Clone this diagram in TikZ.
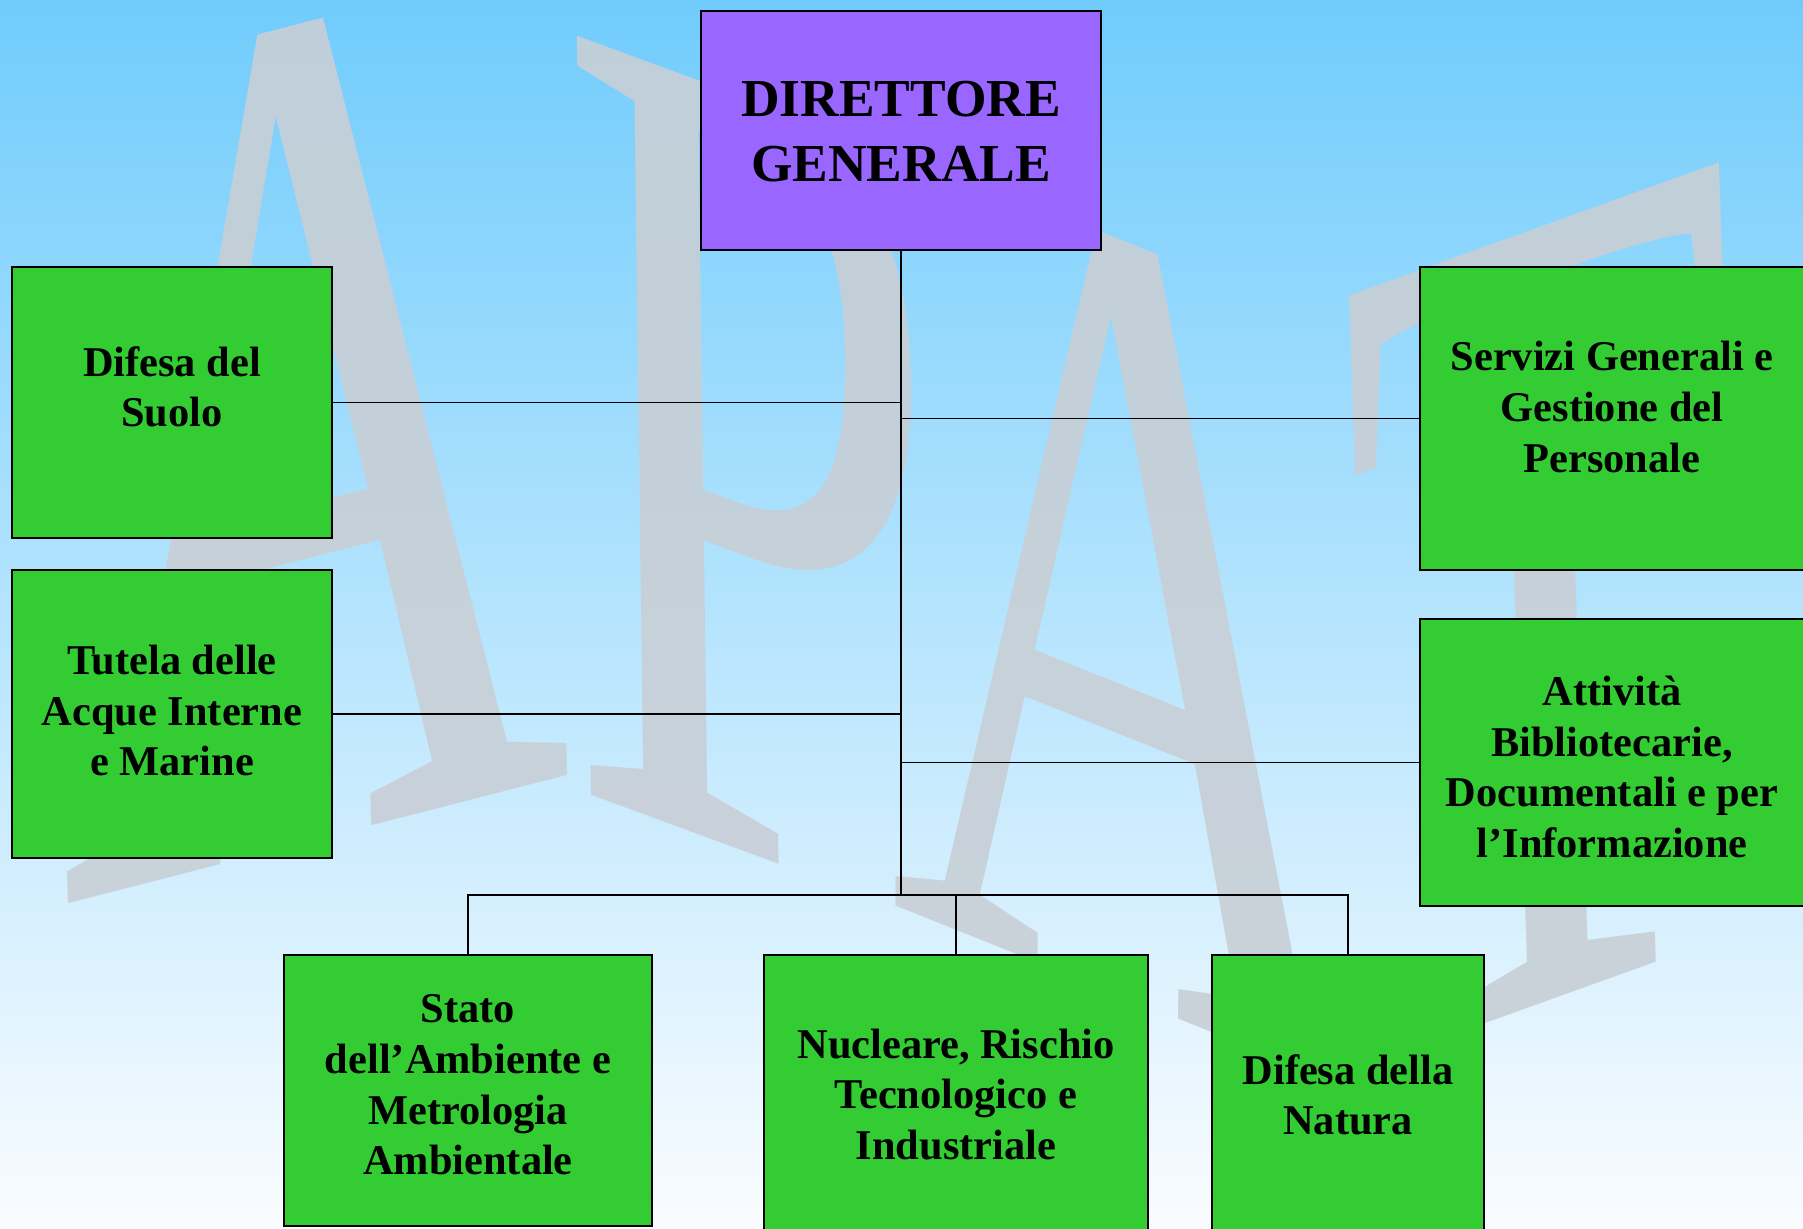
\documentclass[tikz,border=0pt]{standalone}
\usepackage{fontspec}
\setmainfont{Liberation Serif}
\definecolor{bgtop}{RGB}{112,204,252}
\definecolor{bgmid}{RGB}{182,228,253}
\definecolor{bgbot}{RGB}{250,252,255}
\definecolor{wmgray}{RGB}{200,207,214}
\definecolor{boxgreen}{RGB}{51,204,51}
\definecolor{dirpurple}{RGB}{153,102,255}
\tikzset{
  box/.style={draw=black, line width=1pt, fill=boxgreen, inner sep=0pt},
  lbl/.style={align=center, font=\bfseries\fontsize{21.2}{25.3}\selectfont, inner sep=0pt},
  conn/.style={draw=black, line width=0.6pt},
  trunk/.style={draw=black, line width=0.9pt},
  wm/.style={transform shape, anchor=base west, inner sep=0pt, text=wmgray, text opacity=0.9, font=\fontsize{100}{100}\selectfont},
}
\begin{document}
\begin{tikzpicture}[x=0.5pt,y=-0.5pt]
\useasboundingbox (0,0) rectangle (1803,1229);
\clip (0,0) rectangle (1803,1229);
\shade[top color=bgtop, middle color=bgmid, bottom color=bgbot] (0,0) rectangle (1803,1229);

% watermark letters APAT
\begin{scope}[shift={(60,906)}]
  \node[wm, cm={3.54,0.91,-0.16,6.17,(0,0)}] (wmA) at (0,0) {A};
\end{scope}
\begin{scope}[shift={(566,786)}]
  \node[wm, cm={3.4,-1.25,-0.075,5.785,(0,0)}] (wmP) at (0,0) {P};
\end{scope}
\begin{scope}[shift={(888,903)}]
  \node[wm, cm={3.3,-1.32,0.035,5.712,(0,0)}] (wmAA) at (0,0) {A};
\end{scope}
\begin{scope}[shift={(1362,1068)}]
  \node[wm, cm={3.21,1.155,-0.195,5.86,(0,0)}] (wmT) at (0,0) {T};
\end{scope}

% boxes
\node[box, fill=dirpurple, minimum width=200pt, minimum height=119.5pt] (dir) at (901,130.5) {};
\node[box, minimum width=160pt, minimum height=135.5pt] (suolo) at (172,402.5) {};
\node[box, minimum width=160pt, minimum height=144pt] (tutela) at (172,714) {};
\node[box, minimum width=194pt, minimum height=151.5pt] (servizi) at (1614,418.5) {};
\node[box, minimum width=194pt, minimum height=143.5pt] (attivita) at (1614,762.5) {};
\node[box, minimum width=184pt, minimum height=135.5pt] (stato) at (468,1090.5) {};
\node[box, minimum width=192pt, minimum height=143pt] (nucleare) at (956,1098) {};
\node[box, minimum width=136pt, minimum height=143pt] (natura) at (1348,1098) {};

% connectors
\coordinate (bus) at (901,895);
\draw[trunk] (dir.south) -- (bus);
\draw[conn] (suolo.east) -- (suolo.east -| dir.south);
\draw[conn] (tutela.east) -- (tutela.east -| dir.south);
\draw[conn] (servizi.west) -- (servizi.west -| dir.south);
\draw[conn] (attivita.west) -- (attivita.west -| dir.south);
\draw[conn] (stato.north) -- (stato.north |- bus) -- (natura.north |- bus) -- (natura.north);
\draw[conn] (nucleare.north) -- (nucleare.north |- bus);

% labels
\node[align=center, inner sep=0pt, font=\bfseries\fontsize{26.7}{32.2}\selectfont] (tdir) at (901,131.7) {DIRETTORE\\GENERALE};
\node[lbl] (tsuolo) at (172,386.8) {Difesa del\\Suolo};
\node[lbl] (ttutela) at (172,710.6) {Tutela delle\\Acque Interne\\e Marine};
\node[lbl] (tservizi) at (1612,407) {Servizi Generali e\\Gestione del\\Personale};
\node[lbl] (tattivita) at (1612,767) {Attività\\Bibliotecarie,\\Documentali e per\\l’Informazione};
\node[lbl] (tstato) at (468,1085) {Stato\\dell’Ambiente e\\Metrologia\\Ambientale};
\node[lbl] (tnucleare) at (956,1094.5) {Nucleare, Rischio\\Tecnologico e\\Industriale};
\node[lbl] (tnatura) at (1348,1095) {Difesa della\\Natura};
\end{tikzpicture}
\end{document}
